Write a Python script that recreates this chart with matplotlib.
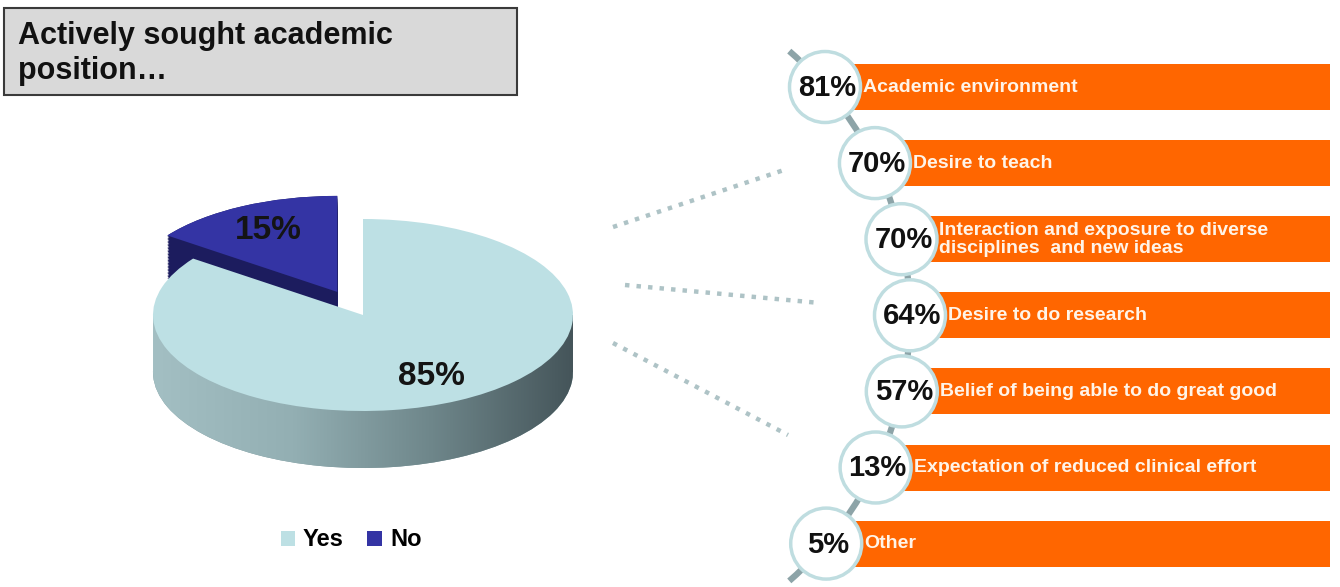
"""
Infographie : poste académique recherché + raisons
"""

import numpy as np
import matplotlib
matplotlib.use('Agg')
import matplotlib.pyplot as plt
from matplotlib.patches import Rectangle, Circle, Arc
from matplotlib.colors import LinearSegmentedColormap

plt.rcParams['font.family'] = ['Liberation Sans', 'DejaVu Sans']

# Données du camembert
pie_labels = ['Yes', 'No']
pie_values = [85, 15]

# Données des raisons
reasons = ['Academic environment',
           'Desire to teach',
           'Interaction and exposure to diverse\ndisciplines  and new ideas',
           'Desire to do research',
           'Belief of being able to do great good',
           'Expectation of reduced clinical effort',
           'Other']
reason_pct = [81, 70, 70, 64, 57, 13, 5]

W, H = 1340, 587
fig = plt.figure(figsize=(W / 100, H / 100), dpi=100)

# Calque principal en pixels (origine en haut à gauche)
ax = fig.add_axes([0, 0, 1, 1])

# Cadre du titre
ax.add_patch(Rectangle((4, 8), 513, 87, fc='#d9d9d9', ec='#3a3a3a', lw=1.5))
ax.text(18, 21, 'Actively sought academic\nposition…', fontsize=22,
        fontweight='bold', va='top', ha='left', linespacing=1.22, color='#111111')

# Lignes pointillées décoratives
dot_lines = [((613, 227), (784, 170)),
             ((625, 285), (820, 303)),
             ((613, 343), (788, 435))]
for (x0, y0), (x1, y1) in dot_lines:
    ax.plot([x0, x1], [y0, y1], color='#aec3c6', lw=3.2, dashes=(1, 1.6),
            solid_capstyle='butt')

# Colonne de droite : arc + barres + cercles
row_y = 87 + 76.1 * np.arange(len(reasons))
arc_cx, arc_cy, arc_r = 559, 316, 351
circ_x = arc_cx + np.sqrt(arc_r ** 2 - (row_y - arc_cy) ** 2)
bar_right = 1330

ax.add_patch(Arc((arc_cx, arc_cy), 2 * arc_r, 2 * arc_r, theta1=-49, theta2=49,
                 color='#8da4a8', lw=4.5, zorder=1))
ax.barh(row_y, bar_right - circ_x, left=circ_x, height=46, color='#ff6600', zorder=2)
for x, y, pct, lab in zip(circ_x, row_y, reason_pct, reasons):
    ax.add_patch(Circle((x, y), 35.5, fc='white', ec='#bfdde0', lw=2.5, zorder=3))
    ax.text(x + 2, y + 1, f'{pct}%', ha='center', va='center', fontsize=21,
            fontweight='bold', color='#111111', zorder=4)
    ax.text(x + 38, y, lab, ha='left', va='center', fontsize=14, fontweight='bold',
            color='#fff4e8', linespacing=1.08, zorder=4)

ax.set_xlim(0, W)
ax.set_ylim(H, 0)
ax.axis('off')

# Camembert "3D" : ellipse aplatie + épaisseur
cx, cy = 363, 315
rx, ry = 210, 96
depth = 57
d = depth / ry
axp = fig.add_axes([(cx - 230) / W, (H - cy - 160) / H, 460 / W, 320 / H])

# flanc de la part "No" (empilement de couches)
for t in np.linspace(d * 0.75, 0, 30):
    axp.pie(pie_values, startangle=144, explode=[0, 0.27], center=(0, -t),
            colors=['none', '#1c1c5e'], wedgeprops=dict(lw=0, zorder=1))

# flanc de la part "Yes" avec dégradé horizontal
base, _ = axp.pie(pie_values, startangle=144, explode=[0, 0.27], center=(0, -d),
                  colors=['#7f9a9e', 'none'], wedgeprops=dict(lw=0, zorder=1))
side_cmap = LinearSegmentedColormap.from_list(
    'side', ['#a3bfc3', '#93afb3', '#6e868a', '#45555a'])
grad = np.linspace(0, 1, 256).reshape(1, -1)
for clip in [base[0], Rectangle((-1, -d), 2, d, transform=axp.transData)]:
    im = axp.imshow(grad, cmap=side_cmap, extent=(-1, 1, -1 - d, 0),
                    aspect='auto', zorder=2)
    im.set_clip_path(clip)

# face supérieure
wedges, _, autotexts = axp.pie(
    pie_values, startangle=144, explode=[0, 0.27],
    colors=['#bde0e4', '#3434a4'], autopct='%1.0f%%', pctdistance=0.72,
    wedgeprops=dict(lw=0, zorder=3),
    textprops=dict(fontsize=24, fontweight='bold', color='#141414', zorder=4))

axp.set_aspect('auto')
axp.set_xlim(-230 / rx, 230 / rx)
axp.set_ylim(-160 / ry, 160 / ry)
axp.axis('off')

fig.legend(wedges, pie_labels, loc='center', bbox_to_anchor=(351 / W, 1 - 540 / H),
           ncol=2, frameon=False, prop=dict(size=17, weight='bold'),
           handlelength=0.6, handleheight=0.6, handletextpad=0.35, columnspacing=1.0)

fig.savefig('out.png', dpi=100)
